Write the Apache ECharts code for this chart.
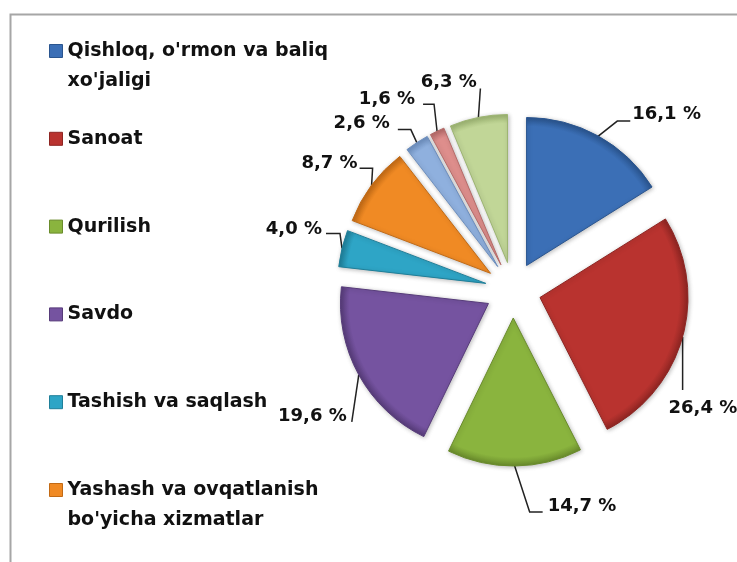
<!DOCTYPE html>
<html>
<head>
<meta charset="utf-8">
<script src="https://cdn.jsdelivr.net/npm/echarts@6/dist/echarts.min.js"></script>
<style>
html,body{margin:0;padding:0;background:#fff;}
#chart{width:737px;height:562px;}
</style>
</head>
<body>
<div id="chart"></div>
<script>
// Data
var categories = [
  "Qishloq, o'rmon va baliq xo'jaligi",
  "Sanoat",
  "Qurilish",
  "Savdo",
  "Tashish va saqlash",
  "Yashash va ovqatlanish bo'yicha xizmatlar",
  "Axborot va aloqa",
  "Moliya va sug'urta xizmatlari",
  "Boshqa xizmatlar"
];
var legendLabels = [
  "Qishloq, o'rmon va baliq\nxo'jaligi",
  "Sanoat",
  "Qurilish",
  "Savdo",
  "Tashish va saqlash",
  "Yashash va ovqatlanish\nbo'yicha xizmatlar"
];
var values = [16.1, 26.4, 14.7, 19.6, 4.0, 8.7, 2.6, 1.6, 6.3];

// Styles
var colors = ['#3b6fb6', '#b9332f', '#8ab43e', '#7553a0', '#2ea5c6', '#f08a24', '#8fb0de', '#de8e8c', '#c1d697'];
var borderColors = ['#2a558f', '#8e2522', '#6a8c2c', '#573c7a', '#1f7f99', '#c26a15', '#6d8fbf', '#b56a68', '#9db572'];
// drawn leader line shape per label (relative to slice anchor): [elbow dx, elbow dy, horizontal length]
var leaderShapes = [
  [19, -15, 13],
  [0, 53, 0],
  [15, 46, 13],
  [-7, 47, 0],
  [-2, -15, -14],
  [1, -17, -13],
  [-6, -13, -13],
  [-3, -27, -11],
  [2, -29, 0]
];
// label placement: [radial length used to place the text, distance from line end to text]
var labelPlacement = [
  [25.1, 21.8],
  [266, -270.4],
  [40, 32.6],
  [87.2, -64.4],
  [80.3, -58],
  [37, -15.7],
  [23.3, 14.3],
  [35.5, 6.7],
  [36.2, -5.6]
];
var pieCenter = [513, 290];
var pieRadius = 148;

var chart = echarts.init(document.getElementById('chart'), null, {renderer: 'canvas'});

var legends = [];
for (var i = 0; i < legendLabels.length; i++) {
  var twoLine = legendLabels[i].indexOf('\n') >= 0;
  var iconCenter = 51 + i * 87.8;
  legends.push({
    data: [{name: categories[i], itemStyle: {color: colors[i], borderColor: borderColors[i], borderWidth: 1}}],
    orient: 'vertical',
    left: 49,
    top: iconCenter - (twoLine ? 45 : 15),
    padding: 0,
    itemWidth: 13,
    itemHeight: 13,
    itemGap: 0,
    icon: 'rect',
    selectedMode: false,
    formatter: (function (k, tl) { return function () { return (tl ? ' \n' : '') + legendLabels[k]; }; })(i, twoLine),
    textStyle: {
      fontFamily: 'DejaVu Sans',
      fontWeight: 'bold',
      fontSize: 19,
      color: '#111',
      lineHeight: 30
    }
  });
}

var seriesData = categories.map(function (c, i) {
  return {
    name: c,
    value: values[i],
    selected: true,
    itemStyle: {
      color: {
        type: 'radial', x: pieCenter[0], y: pieCenter[1], r: pieRadius, global: true,
        colorStops: [
          {offset: 0, color: colors[i]},
          {offset: 0.94, color: colors[i]},
          {offset: 1, color: borderColors[i]}
        ]
      },
      borderColor: borderColors[i],
      borderWidth: 1
    },
    label: {
      distanceToLabelLine: labelPlacement[i][1]
    },
    labelLine: {
      length: labelPlacement[i][0],
      length2: 0
    }
  };
});

chart.setOption({
  animation: false,
  backgroundColor: '#fff',
  legend: legends,
  graphic: [{
    type: 'polyline',
    silent: true,
    shape: {points: [[10.5, 562], [10.5, 14.5], [737, 14.5]]},
    style: {stroke: '#a6a6a6', lineWidth: 2, fill: null}
  }],
  series: [{
    type: 'pie',
    center: pieCenter,
    radius: pieRadius,
    startAngle: 90,
    clockwise: true,
    selectedMode: 'multiple',
    selectedOffset: 28,
    avoidLabelOverlap: false,
    silent: true,
    itemStyle: {
      shadowBlur: 4,
      shadowColor: 'rgba(0,0,0,0.25)',
      shadowOffsetX: 1,
      shadowOffsetY: 1
    },
    label: {
      show: true,
      position: 'outside',
      overflow: 'none',
      formatter: function (p) { return p.value.toFixed(1).replace('.', ',') + ' %'; },
      fontFamily: 'DejaVu Sans',
      fontWeight: 'bold',
      fontSize: 18,
      color: '#111'
    },
    labelLine: {
      show: true,
      lineStyle: {color: '#222', width: 1.5}
    },
    labelLayout: function (p) {
      var pts = p.labelLinePoints;
      if (!pts) { return {}; }
      var s = leaderShapes[p.dataIndex];
      var a = pts[0];
      var e = [a[0] + s[0], a[1] + s[1]];
      var f = [e[0] + s[2], e[1]];
      return {labelLinePoints: [a, e, f]};
    },
    data: seriesData
  }]
});
</script>
</body>
</html>
